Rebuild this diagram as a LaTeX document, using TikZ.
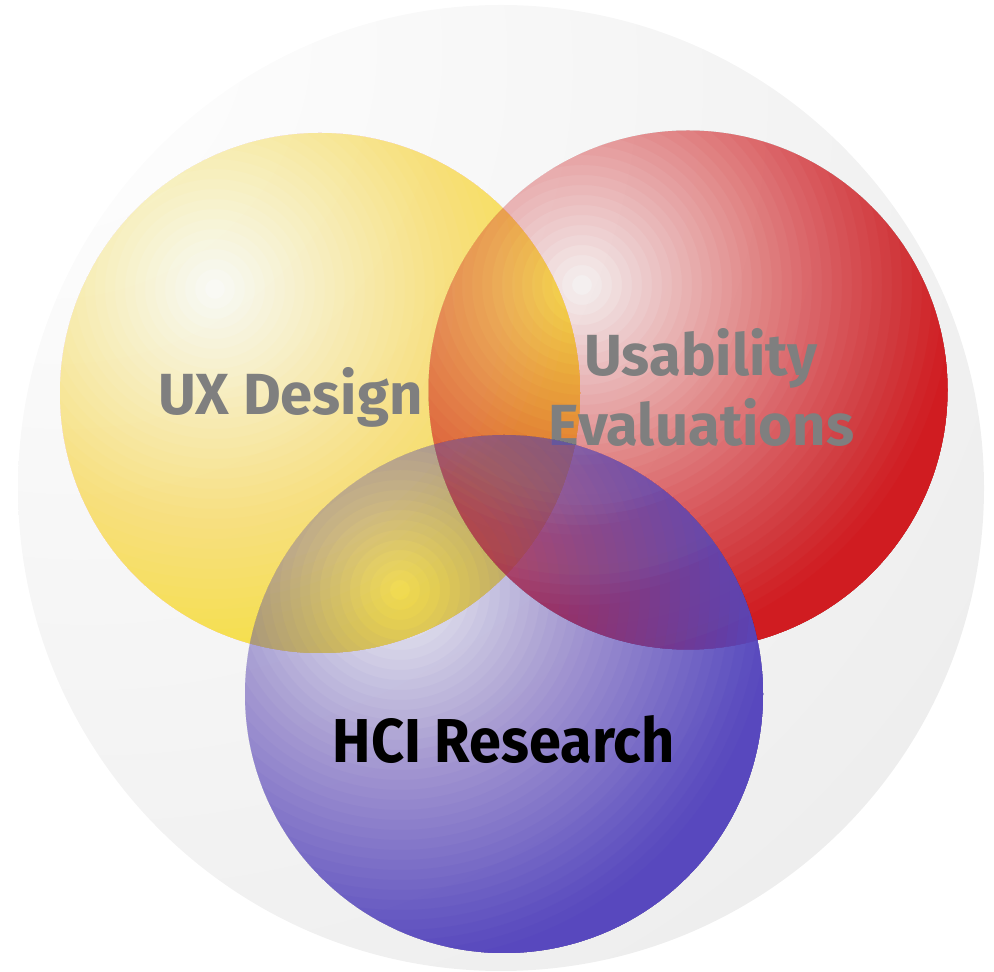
\documentclass[tikz,border=0pt]{standalone}
\usepackage{fontspec}
\setmainfont{Fira Sans}
\definecolor{bgedge}{HTML}{E6E6E6}
\definecolor{uxcol}{HTML}{F7DF48}
\definecolor{uecol}{HTML}{D01C21}
\definecolor{hcicol}{HTML}{5848BE}
\definecolor{labelgray}{HTML}{7F7F7F}
\pgfdeclareradialshading{bgshade}{\pgfpoint{-25bp}{25bp}}{color(0bp)=(white); color(75bp)=(bgedge); color(200bp)=(bgedge)}
% a translucent ball: opacity grows linearly with the distance from the highlight
\newcommand\mydisc[4]{%
  \begin{scope}
    \clip #2 circle[radius=#3];
    \fill[#1, opacity=0.03] #2 circle[radius=#3];
    \foreach \k in {1,...,37} {
      \pgfmathsetmacro\rk{10*\k}
      \pgfmathsetmacro\Ak{min(0.999, 0.03+0.97*\rk/370)}
      \pgfmathsetmacro\Ap{min(0.999, 0.03+0.97*(\rk-10)/370)}
      \pgfmathsetmacro\ak{1-(1-\Ak)/(1-\Ap)}
      \fill[#1, opacity=\ak, even odd rule] #4 circle[radius=800] #4 circle[radius=\rk];
    }
  \end{scope}}
\tikzset{
  lbl/.style={anchor=base, inner sep=0pt, font=\fontsize{58}{68}\selectfont\bfseries, text=labelgray},
}
\begin{document}
\begin{tikzpicture}[x=1pt,y=1pt]
\useasboundingbox (0,0) rectangle (994,972);
% background circle
\shade[shading=bgshade] (501,484) circle[radius=483];
% yellow
\mydisc{uxcol}{(320,579)}{260}{(215,683)}
% red
\mydisc{uecol}{(688,582)}{259.5}{(582,687)}
\node[lbl] (ux) at (290.5,557) {UX Design};
\node[lbl] (ue1) at (701,596) {Usability};
\node[lbl] (ue2) at (701.5,526) {Evaluations};
% blue
\mydisc{hcicol}{(504,278)}{259}{(400,382)}
\node[lbl, text=black, font=\fontsize{62}{72}\selectfont\bfseries, xscale=0.93] (hci) at (503.5,209) {HCI Research};
\end{tikzpicture}
\end{document}
